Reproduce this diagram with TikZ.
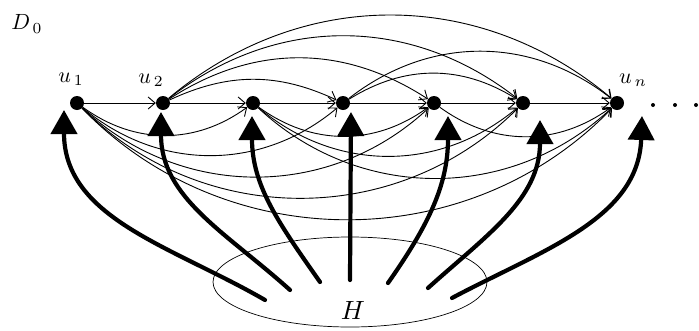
\documentclass[tikz,border=0pt]{standalone}
\usetikzlibrary{arrows.meta,shapes.geometric}
\begin{document}
\begin{tikzpicture}[x=1pt,y=-1pt,
  vtx/.style={circle,fill=black,inner sep=0pt,minimum size=14pt},
  smalldot/.style={circle,fill=black,inner sep=0pt,minimum size=4pt},
  thinarc/.style={line width=0.9pt,-{Straight Barb[length=7pt,width=12pt,line width=0.9pt]}},
  thickarr/.style={line width=4.2pt,line cap=round,-{Triangle[length=24pt,width=26pt]}},
  lab/.style={inner sep=0pt,scale=2.2}]
\useasboundingbox (0,0) rectangle (699,330);
% vertices
\node[vtx] (u1) at (77,103) {};
\node[vtx] (u2) at (163,103) {};
\node[vtx] (u3) at (253,103) {};
\node[vtx] (u4) at (343,103) {};
\node[vtx] (u5) at (434,103) {};
\node[vtx] (u6) at (523,103) {};
\node[vtx] (u7) at (617,103) {};
\node[smalldot] (d1) at (653,105) {};
\node[smalldot] (d2) at (675,105) {};
\node[smalldot] (d3) at (696,105) {};
% labels
\node[lab] (D0) at (27,24) {$D_{\,0}$};
\node[lab] (l1) at (71,79) {$u_{\,1}$};
\node[lab] (l2) at (151,80) {$u_{\,2}$};
\node[lab] (l7) at (633,80) {$u_{\,n}$};
% H ellipse
\node[ellipse,draw,line width=0.7pt,minimum width=274pt,minimum height=90pt] (Hell) at (350,282) {};
\node[lab,scale=1.2] (Hlab) at (353,310) {$H$};
% consecutive edges
\draw[thinarc] (u1) -- (u2);
\draw[thinarc] (u2) -- (u3);
\draw[thinarc] (u3) -- (u4);
\draw[thinarc] (u4) -- (u5);
\draw[thinarc] (u5) -- (u6);
\draw[thinarc] (u6) -- (u7);
% arcs above
\draw[thinarc] (u2) to[bend left=25] (u4);
\draw[thinarc] (u2) to[bend left=33] (u5);
\draw[thinarc] (u2) to[bend left=38] (u6);
\draw[thinarc] (u2) to[bend left=40] (u7);
\draw[thinarc] (u4) to[bend left=32] (u6);
\draw[thinarc] (u4) to[bend left=38] (u7);
% arcs below
\draw[thinarc] (u1) to[bend right=36] (u3);
\draw[thinarc] (u1) to[bend right=40] (u4);
\draw[thinarc] (u1) to[bend right=43] (u5);
\draw[thinarc] (u1) to[bend right=45] (u6);
\draw[thinarc] (u1) to[bend right=46] (u7);
\draw[thinarc] (u3) to[bend right=36] (u5);
\draw[thinarc] (u3) to[bend right=40] (u6);
\draw[thinarc] (u3) to[bend right=43] (u7);
\draw[thinarc] (u5) to[bend right=36] (u7);
% thick arrows from H
\coordinate (s1) at (265,300); \coordinate (t1) at (64,110);
\coordinate (s2) at (290,290); \coordinate (t2) at (161,112);
\coordinate (s3) at (320,282); \coordinate (t3) at (252,116);
\coordinate (s4) at (350,280); \coordinate (t4) at (351,112);
\coordinate (s5) at (388,283); \coordinate (t5) at (448,116);
\coordinate (s6) at (428,288); \coordinate (t6) at (540,120);
\coordinate (s7) at (452,298); \coordinate (t7) at (642,116);
\draw[thickarr] (s1) to[out=150,in=-90] (t1);
\draw[thickarr] (s2) to[out=138,in=-90] (t2);
\draw[thickarr] (s3) to[out=125,in=-90] (t3);
\draw[thickarr] (s4) -- (t4);
\draw[thickarr] (s5) to[out=55,in=-90] (t5);
\draw[thickarr] (s6) to[out=42,in=-90] (t6);
\draw[thickarr] (s7) to[out=28,in=-92] (t7);
\end{tikzpicture}
\end{document}
